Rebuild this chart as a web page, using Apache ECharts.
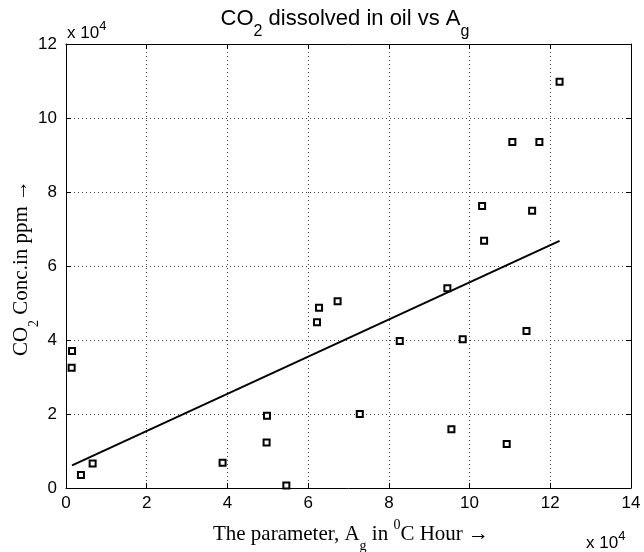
<!DOCTYPE html>
<html>
<head>
<meta charset="utf-8">
<title>CO2 dissolved in oil</title>
<script src="https://cdn.jsdelivr.net/npm/echarts@6/dist/echarts.min.js"></script>
<style>
  html, body { margin: 0; padding: 0; background: #fff; }
  #main { width: 644px; height: 552px; }
</style>
</head>
<body>
<div id="main"></div>
<script>
// measured points, A_g (deg C hour) and CO2 (ppm)
var agValues = [1500, 1400, 3700, 6600, 38800, 49800, 49700, 54600, 62200, 62700, 67300, 72800,
                82700, 94500, 95500, 98300, 103100, 103600, 109200, 110600, 114100, 115500, 117300, 122300];
var co2Values = [37000, 32500, 3500, 6600, 6800, 19500, 12300, 700, 44800, 48700, 50500, 20000,
                 39700, 54000, 15900, 40200, 76200, 66800, 11900, 93500, 42400, 74900, 93500, 109800];
// fitted trend line end points
var fitX = [1500, 122300];
var fitY = [6100, 66800];

var xTicks = [0, 2, 4, 6, 8, 10, 12, 14];
var yTicks = [0, 2, 4, 6, 8, 10, 12];

var scatterData = [];
for (var i = 0; i < agValues.length; i++) {
    scatterData.push([agValues[i], co2Values[i]]);
}
var fitData = [];
for (var j = 0; j < fitX.length; j++) {
    fitData.push([fitX[j], fitY[j]]);
}

var sans = 'Liberation Sans, Arial, sans-serif';
var serif = 'Liberation Serif, Times New Roman, serif';

var myChart = echarts.init(document.getElementById('main'));

function baseAxis(pos, ticks, showLabel, isY) {
    return {
        type: 'value',
        position: pos,
        min: ticks[0] * 10000,
        max: ticks[ticks.length - 1] * 10000,
        interval: 20000,
        axisLine: { show: true, onZero: false, lineStyle: { color: '#000', width: 1 } },
        axisTick: { show: true, inside: true, length: 5, lineStyle: { color: '#000' } },
        axisLabel: {
            show: showLabel,
            color: '#000',
            fontFamily: sans,
            fontSize: 17,
            margin: isY ? 9 : 7,
            padding: isY ? [6, 0, 0, 0] : 0,
            formatter: function (v) { return String(Math.round(v / 10000)); }
        },
        splitLine: {
            show: showLabel,
            lineStyle: { color: '#444', type: [1, 3], width: 1 }
        }
    };
}

var option = {
    animation: false,
    backgroundColor: '#fff',
    grid: { left: 66, right: 13, top: 44, bottom: 64 },
    xAxis: [baseAxis('bottom', xTicks, true, false), baseAxis('top', xTicks, false, false)],
    yAxis: [baseAxis('left', yTicks, true, true), baseAxis('right', yTicks, false, true)],
    graphic: [
        {
            type: 'text', x: 345, y: -2,
            style: {
                text: 'CO{sub|2} dissolved in oil vs A{sub|g}',
                fontFamily: sans, fontSize: 22, fill: '#000',
                align: 'center', verticalAlign: 'top',
                rich: {
                    sub: { fontSize: 16, fontFamily: sans, padding: [26, 0, 0, 0] }
                }
            }
        },
        {
            type: 'text', left: 67, top: 20,
            style: {
                text: 'x 10{sup|4}',
                fontFamily: sans, fontSize: 17, fill: '#000',
                rich: { sup: { fontSize: 13, fontFamily: sans, padding: [0, 0, 14, 0] } }
            }
        },
        {
            type: 'text', left: 586, top: 530,
            style: {
                text: 'x 10{sup|4}',
                fontFamily: sans, fontSize: 17, fill: '#000',
                rich: { sup: { fontSize: 13, fontFamily: sans, padding: [0, 0, 14, 0] } }
            }
        },
        {
            type: 'text', x: 351, y: 515,
            style: {
                text: 'The parameter, A{sub|g} in {sup|0}C Hour \u2192',
                fontFamily: serif, fontSize: 21, fill: '#000',
                align: 'center', verticalAlign: 'top',
                rich: {
                    sub: { fontSize: 14, fontFamily: serif, padding: [24, 0, 0, 0] },
                    sup: { fontSize: 14, fontFamily: serif, padding: [0, 0, 18, 0] }
                }
            }
        },
        {
            type: 'text', x: 21, y: 268, rotation: Math.PI / 2,
            style: {
                text: 'CO{sub|2} Conc.in ppm \u2192',
                fontFamily: serif, fontSize: 21, fill: '#000',
                align: 'center', verticalAlign: 'middle',
                rich: { sub: { fontSize: 14, fontFamily: serif, padding: [26, 0, 0, 0] } }
            }
        }
    ],
    series: [
        {
            type: 'line',
            data: fitData,
            showSymbol: false,
            lineStyle: { color: '#000', width: 2 },
            z: 3
        },
        {
            type: 'scatter',
            data: scatterData,
            symbol: 'rect',
            symbolSize: 6,
            itemStyle: { color: '#fff', borderColor: '#000', borderWidth: 2, opacity: 1 },
            z: 4
        }
    ]
};

myChart.setOption(option);
</script>
</body>
</html>
